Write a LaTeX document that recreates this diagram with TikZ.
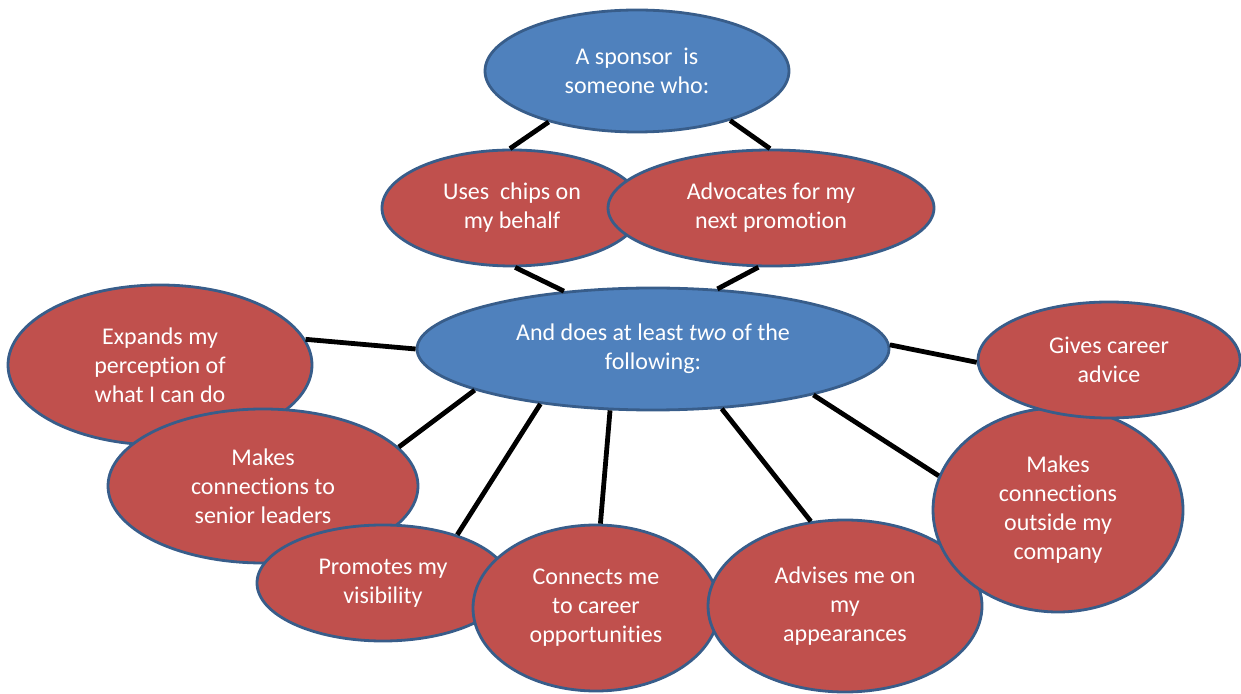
\documentclass[tikz,border=0pt]{standalone}
\usepackage{fontspec}
\setmainfont{Carlito}[Ligatures=NoCommon]
\usetikzlibrary{shapes.geometric}
\definecolor{leadblue}{HTML}{4F81BD}
\definecolor{itemred}{HTML}{C0504D}
\definecolor{rim}{HTML}{385D8A}

\begin{document}
\begin{tikzpicture}[
  x=0.5pt, y=-0.5pt,
  bubble/.style={ellipse, draw=rim, line width=1.4pt, inner sep=0pt,
    text=white, align=center, font=\fontsize{12}{14.5}\selectfont},
  lead/.style={bubble, fill=leadblue},
  item/.style={bubble, fill=itemred},
  link/.style={line width=2.4pt, black}
]
  \useasboundingbox (0,0) rectangle (1241,694);

  % the two questions
  \node[lead, minimum width=152pt, minimum height=61pt] (top) at (637,71)
    {A sponsor\ \ is\\someone who:};
  \node[item, minimum width=130pt, minimum height=58pt] (chips) at (512,208)
    {Uses\ \ chips on\\my behalf};
  \node[item, minimum width=163pt, minimum height=58pt] (advocate) at (771,208)
    {Advocates for my\\next promotion};
  \node[lead, minimum width=236pt, minimum height=61pt] (mid) at (653,349)
    {And does at least \textit{two} of the\\following:};

  % the choices
  \node[item, minimum width=152pt, minimum height=80pt] (expand) at (160,365)
    {Expands my\\perception of\\what I can do};
  \node[item, minimum width=155pt, minimum height=77pt] (senior) at (263,486)
    {Makes\\connections to\\senior leaders};
  \node[item, minimum width=126pt, minimum height=58pt] (visible) at (383,583)
    {Promotes my\\visibility};
  \node[item, minimum width=123pt, minimum height=83pt] (career) at (596,608)
    {Connects me\\to career\\opportunities};
  \node[item, minimum width=137pt, minimum height=86pt] (appear) at (845,606)
    {Advises me on\\my\\appearances};
  \node[item, minimum width=125pt, minimum height=102pt] (outside) at (1058,510)
    {Makes\\connections\\outside my\\company};
  \node[item, minimum width=131pt, minimum height=58pt] (advice) at (1109,360)
    {Gives career\\advice};

  % links
  \draw[link] (top.210) -- (chips.92);
  \draw[link] (top.332) -- (advocate.91);
  \draw[link] (chips.273) -- (mid.147);
  \draw[link] (advocate.258) -- (mid.43);
  \draw[link] (mid.180) -- (expand.10);
  \draw[link] (mid.1) -- (advice.181);
  \draw[link] (mid.193) -- (senior.16);
  \draw[link] (mid.206) -- (visible.33);
  \draw[link] (mid.235) -- (career.87);
  \draw[link] (mid.319) -- (appear.112);
  \draw[link] (mid.344) -- (outside.164);
\end{tikzpicture}
\end{document}
